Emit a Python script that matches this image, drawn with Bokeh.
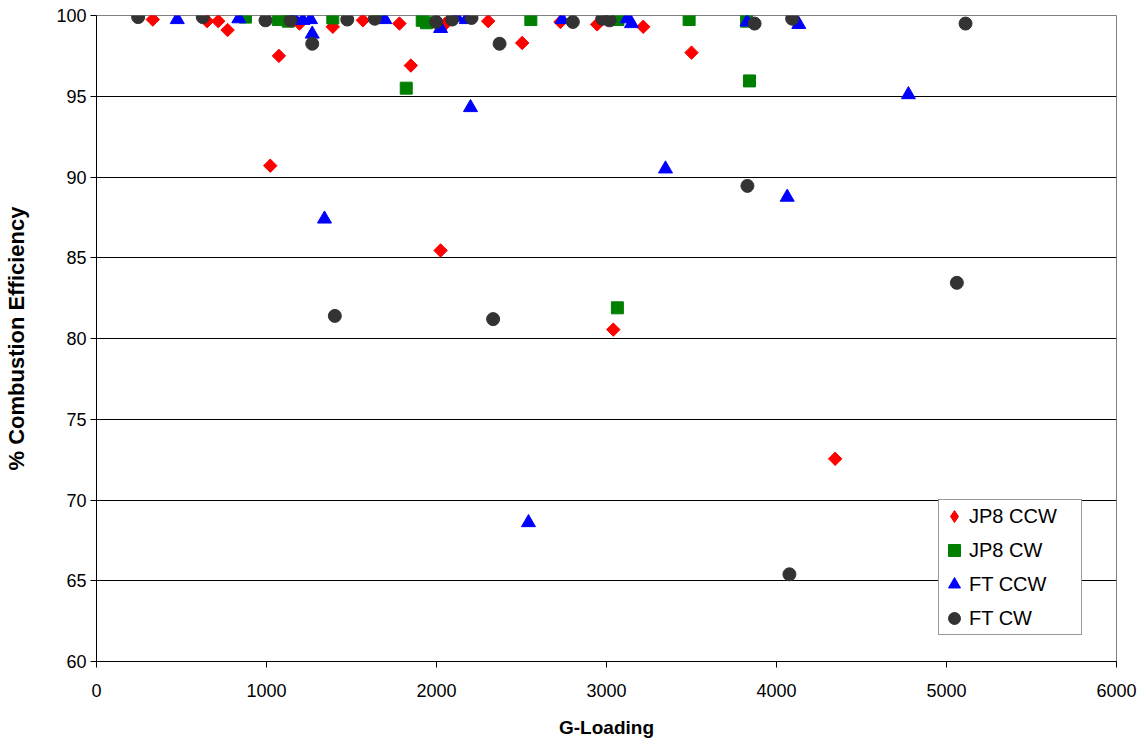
import math
from bokeh.plotting import figure
from bokeh.models import Range1d, FixedTicker, Legend, LegendItem
from bokeh.embed import file_html
from bokeh.resources import INLINE

# ---- data ----
jp8_ccw_x = [331, 651, 716, 771, 1073, 1022, 1194, 1390, 1567, 1782, 1849, 2024, 2053,
             2304, 2504, 2729, 2945, 3040, 3216, 3500, 4345]
jp8_ccw_y = [99.75, 99.65, 99.65, 99.1, 97.5, 90.7, 99.5, 99.3, 99.7, 99.5, 96.9, 85.45, 99.5,
             99.65, 98.3, 99.6, 99.45, 80.55, 99.3, 97.7, 72.55]

jp8_cw_x = [876, 1069, 1128, 1390, 1661, 1822, 1916, 1941, 2555, 3064, 3067, 3486, 3824, 3841]
jp8_cw_y = [99.9, 99.75, 99.65, 99.85, 99.95, 95.5, 99.7, 99.55, 99.75, 81.9, 99.75, 99.75, 99.65, 95.95]

ft_ccw_x = [475, 837, 1160, 1214, 1259, 1269, 1341, 1696, 2024, 2118, 2175, 2200, 2541,
            2739, 3122, 3147, 3347, 3827, 4063, 4131, 4776]
ft_ccw_y = [99.75, 99.8, 99.9, 99.7, 99.75, 98.85, 87.4, 99.75, 99.2, 99.9, 99.75, 94.3, 68.6,
            99.75, 99.8, 99.5, 90.5, 99.6, 88.75, 99.45, 95.1]

ft_cw_x = [245, 625, 994, 1141, 1269, 1402, 1475, 1637, 1998, 2092, 2206, 2333, 2371,
           2802, 2975, 3018, 3829, 3871, 4076, 4092, 5061, 5112]
ft_cw_y = [99.9, 99.9, 99.7, 99.7, 98.25, 81.4, 99.75, 99.8, 99.6, 99.75, 99.85, 81.2, 98.25,
           99.6, 99.8, 99.7, 89.45, 99.5, 65.4, 99.8, 83.45, 99.5]

series_names = ["JP8 CCW", "JP8 CW", "FT CCW", "FT CW"]
x_ticks = [0, 1000, 2000, 3000, 4000, 5000, 6000]
y_ticks = [60, 65, 70, 75, 80, 85, 90, 95, 100]

FONT = "Liberation Sans"

p = figure(width=1140, height=743,
           x_range=Range1d(0, 6000), y_range=Range1d(60, 100),
           output_backend="svg", toolbar_location=None,
           min_border_left=96, min_border_right=24,
           min_border_top=15, min_border_bottom=82)

p.background_fill_color = "white"
p.border_fill_color = "white"
p.outline_line_color = "#808080"
p.outline_line_width = 1

p.xgrid.visible = False
p.ygrid.grid_line_color = "black"
p.ygrid.grid_line_width = 1
p.ygrid.ticker = FixedTicker(ticks=y_ticks)

p.xaxis.ticker = FixedTicker(ticks=x_ticks)
p.yaxis.ticker = FixedTicker(ticks=y_ticks)

for ax in (p.xaxis[0], p.yaxis[0]):
    ax.axis_line_color = "black"
    ax.axis_line_width = 1
    ax.major_tick_line_color = "black"
    ax.major_tick_in = 0
    ax.major_tick_out = 6
    ax.minor_tick_in = 0
    ax.minor_tick_out = 0
    ax.major_label_text_font = FONT
    ax.major_label_text_font_size = "18px"
    ax.major_label_text_color = "black"
    ax.axis_label_text_font = FONT
    ax.axis_label_text_font_style = "bold"
    ax.axis_label_text_color = "black"

p.xaxis.axis_label = "G-Loading"
p.xaxis.axis_label_text_font_size = "19px"
p.xaxis.major_label_standoff = 16
p.xaxis.axis_label_standoff = 17

p.yaxis.axis_label = "% Combustion Efficiency"
p.yaxis.axis_label_text_font_size = "22px"
p.yaxis.major_label_standoff = 4
p.yaxis.axis_label_standoff = 24

# diamond glyph (used for the legend) sits under the rotated squares
r1_leg = p.scatter(jp8_ccw_x, jp8_ccw_y, marker="diamond", size=12,
                   fill_color="#FF0000", line_color="#FF0000")
r1 = p.scatter(jp8_ccw_x, jp8_ccw_y, marker="square", angle=math.pi / 4, size=9.5,
               fill_color="#FF0000", line_color="#FF0000")
r2 = p.scatter(jp8_cw_x, jp8_cw_y, marker="square", size=12,
               fill_color="#008000", line_color="#008000")
r3 = p.scatter(ft_ccw_x, ft_ccw_y, marker="triangle", size=14,
               fill_color="#0000FF", line_color="#0000FF")
r4 = p.scatter(ft_cw_x, ft_cw_y, marker="circle", size=13,
               fill_color="#333333", line_color="#333333")

legend = Legend(items=[LegendItem(label=n, renderers=[r]) for n, r in
                       zip(series_names, [r1_leg, r2, r3, r4])],
                location=(842, 26))
legend.label_text_font = FONT
legend.label_text_font_size = "20px"
legend.label_text_color = "black"
legend.glyph_width = 30
legend.glyph_height = 32
legend.label_height = 32
legend.label_width = 112
legend.label_standoff = 0
legend.spacing = 2
legend.padding = 0
legend.margin = 0
legend.border_line_color = "#333333"
legend.border_line_width = 1
legend.background_fill_color = "white"
legend.background_fill_alpha = 1
p.add_layout(legend, "center")

open("out.html", "w").write(file_html(p, INLINE))
